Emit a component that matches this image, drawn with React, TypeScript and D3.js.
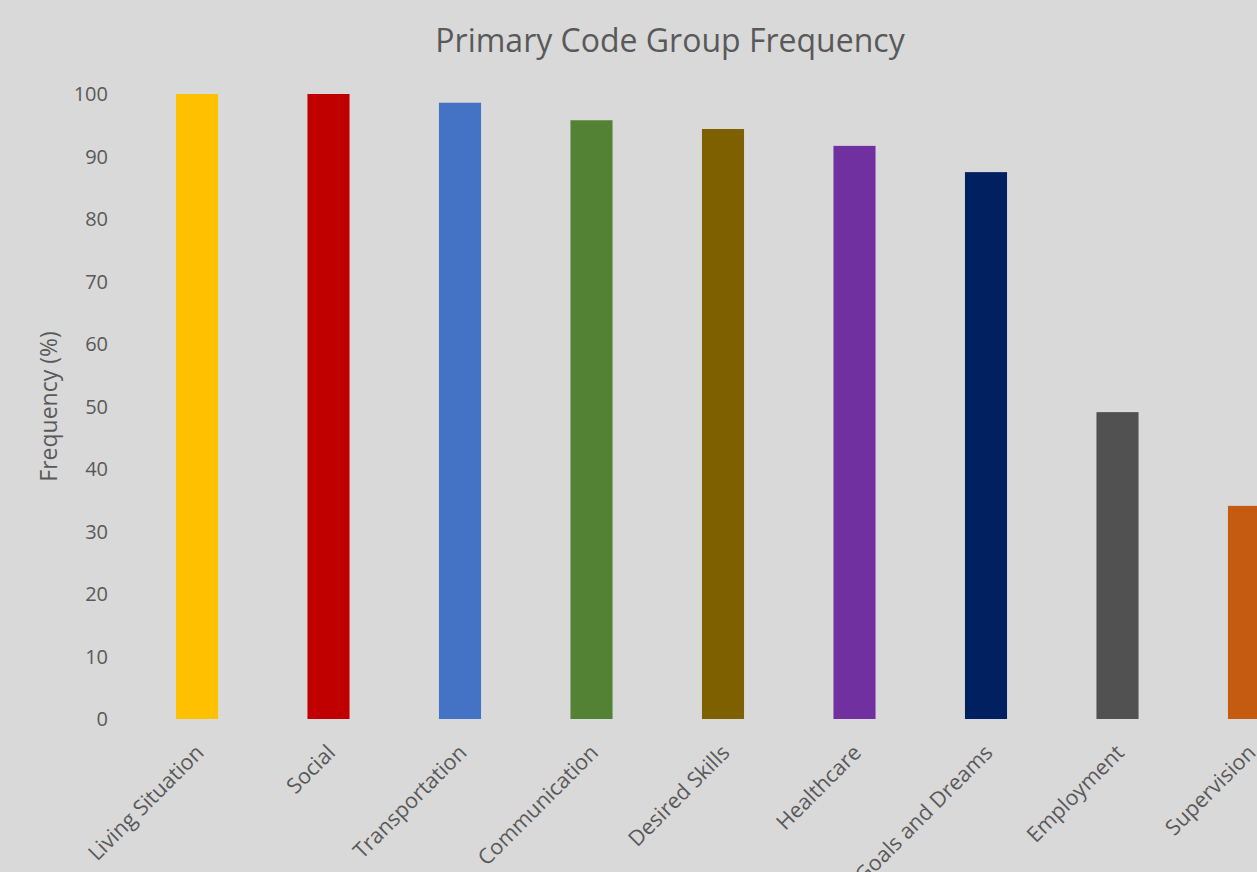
import React from "react";
import * as d3 from "d3";

const categories = [
  "Living Situation",
  "Social",
  "Transportation",
  "Communication",
  "Desired Skills",
  "Healthcare",
  "Goals and Dreams",
  "Employment",
  "Supervision",
];
const values = [100, 100, 98.6, 95.8, 94.4, 91.7, 87.5, 49.1, 34.1];
const colors = [
  "#FFC000",
  "#C00000",
  "#4472C4",
  "#548235",
  "#7F6000",
  "#7030A0",
  "#002060",
  "#515151",
  "#C55A11",
];
const yTicks = [0, 10, 20, 30, 40, 50, 60, 70, 80, 90, 100];
const title = "Primary Code Group Frequency";
const yTitle = "Frequency (%)";

const W = 1257;
const H = 872;
const FONT = "'Open Sans', 'DejaVu Sans', sans-serif";
const TEXT = "#595959";

export default function App() {
  const x = d3
    .scaleBand<string>()
    .domain(categories)
    .range([131.25, 1314.75])
    .paddingInner(0.68)
    .paddingOuter(0.34);
  const y = d3.scaleLinear().domain([0, 100]).range([719, 94]);

  return (
    <svg
      width={W}
      height={H}
      style={{ position: "absolute", left: 0, top: 0, overflow: "hidden" }}
    >
      <rect x={0} y={0} width={W} height={H} fill="#D9D9D9" />
      <text
        x={670}
        y={52}
        textAnchor="middle"
        fontFamily={FONT}
        fontSize={32}
        fill={TEXT}
      >
        {title}
      </text>
      {yTicks.map((t) => (
        <text
          key={t}
          x={108}
          y={y(t)}
          dy="0.35em"
          textAnchor="end"
          fontFamily={FONT}
          fontSize={20}
          fill={TEXT}
        >
          {t}
        </text>
      ))}
      <text
        transform={`translate(57,${(y(0) + y(100)) / 2}) rotate(-90)`}
        textAnchor="middle"
        fontFamily={FONT}
        fontSize={23}
        fill={TEXT}
      >
        {yTitle}
      </text>
      {categories.map((c, i) => (
        <rect
          key={c}
          x={x(c)!}
          y={y(values[i])}
          width={x.bandwidth()}
          height={y(0) - y(values[i])}
          fill={colors[i]}
        />
      ))}
      {categories.map((c) => {
        const cx = x(c)! + x.bandwidth() / 2 + 8;
        return (
          <text
            key={c}
            transform={`translate(${cx},754) rotate(-45)`}
            textAnchor="end"
            fontFamily={FONT}
            fontSize={21.5}
            fill={TEXT}
          >
            {c}
          </text>
        );
      })}
    </svg>
  );
}
